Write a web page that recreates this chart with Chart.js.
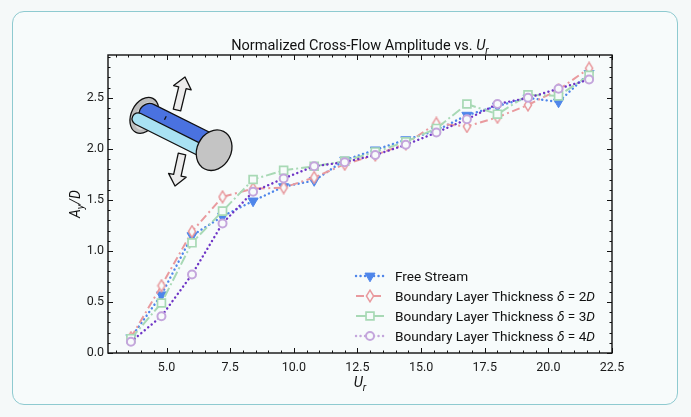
<!DOCTYPE html>
<html><head><meta charset="utf-8">
<script src="https://cdn.jsdelivr.net/npm/chart.js@4.4.0/dist/chart.umd.min.js"></script>
<style>
html,body{margin:0;padding:0;background:#f5f9f9;}
#card{position:absolute;left:12px;top:11px;width:664px;height:392px;border:1.5px solid #8ecad0;border-radius:12px;background:#f7fbfb;}
canvas{position:absolute;left:0;top:0;}
</style></head><body>
<div id="card"></div>
<canvas id="c" width="691" height="417"></canvas>
<script>
// ---- data ----
const ur = [3.6, 4.8, 6.0, 7.2, 8.4, 9.6, 10.8, 12.0, 13.2, 14.4, 15.6, 16.8, 18.0, 19.2, 20.4, 21.6];
const freeStream = [0.15, 0.57, 1.15, 1.34, 1.49, 1.63, 1.69, 1.89, 1.99, 2.09, 2.18, 2.33, 2.42, 2.50, 2.46, 2.74];
const delta2D    = [0.15, 0.66, 1.19, 1.53, 1.61, 1.62, 1.72, 1.85, 1.94, 2.05, 2.25, 2.22, 2.31, 2.43, 2.58, 2.79];
const delta3D    = [0.14, 0.49, 1.08, 1.39, 1.70, 1.79, 1.83, 1.88, 1.97, 2.07, 2.20, 2.44, 2.34, 2.53, 2.52, 2.72];
const delta4D    = [0.11, 0.36, 0.77, 1.27, 1.58, 1.71, 1.83, 1.87, 1.94, 2.04, 2.16, 2.29, 2.44, 2.50, 2.59, 2.68];
const seriesLabels = ['Free Stream', 'Boundary Layer Thickness δ = 2D', 'Boundary Layer Thickness δ = 3D', 'Boundary Layer Thickness δ = 4D'];
const xTicks = [5.0, 7.5, 10.0, 12.5, 15.0, 17.5, 20.0, 22.5];
const yTicks = [0.0, 0.5, 1.0, 1.5, 2.0, 2.5];
const xRange = [2.7, 22.5];
const yRange = [0, 2.92];
const xMinorStep = 0.5;
const yMinorStep = 0.1;

const BG = '#f7fbfb';
const FONT = 'Roboto, "Noto Sans", sans-serif';

function diamondImg(color){
  const c = document.createElement('canvas'); c.width = 10; c.height = 14;
  const g = c.getContext('2d');
  g.beginPath(); g.moveTo(5,1.2); g.lineTo(8.6,7); g.lineTo(5,12.8); g.lineTo(1.4,7); g.closePath();
  g.fillStyle = BG; g.fill(); g.lineWidth = 1.5; g.strokeStyle = color; g.stroke();
  return c;
}

const styles = [
  {line:'#4f86ea', legendLine:'#4f86ea', mark:'#4f86ea', dash:[0.1,4.4], cap:'round', width:2.4, pointStyle:'triangle', rot:180, radius:5.8, fillPt:'#4f86ea', bw:1, order:4},
  {line:'#e99a9e', legendLine:'#e99a9e', mark:'#e99a9e', dash:[8,3.5,2,3.5], cap:'butt', width:2, pointStyle:diamondImg('#e99a9e'), rot:0, radius:5, fillPt:BG, bw:1.5, order:3},
  {line:'#a8d9b5', legendLine:'#a8d9b5', mark:'#a8d9b5', dash:[10,3,2,3], cap:'butt', width:2, pointStyle:'rect', rot:0, radius:5.6, fillPt:BG, bw:1.7, order:2},
  {line:'#6e34c6', legendLine:'#c4a6dc', mark:'#c4a6dc', dash:[0.1,4.4], cap:'round', width:2.4, pointStyle:'circle', rot:0, radius:4, fillPt:BG, bw:2, order:1}
];
const seriesValues = [freeStream, delta2D, delta3D, delta4D];

const datasets = seriesValues.map((vals, i) => {
  const s = styles[i];
  return {
    label: seriesLabels[i],
    data: ur.map((x, k) => ({x, y: vals[k]})),
    borderColor: s.line, borderWidth: s.width, borderDash: s.dash, borderCapStyle: s.cap,
    pointStyle: s.pointStyle, pointRotation: s.rot, pointRadius: s.radius,
    pointBackgroundColor: s.fillPt, pointBorderColor: s.mark, pointBorderWidth: s.bw,
    pointHoverRadius: s.radius, fill: false, tension: 0, order: s.order
  };
});

// ---- rich text helper ----
function segFont(seg, base){
  const size = seg.sub ? base * 0.72 : base;
  return (seg.i ? 'italic ' : '') + size + 'px ' + FONT;
}
function richWidth(ctx, segs, base){
  let w = 0;
  for (const s of segs){ ctx.font = segFont(s, base); w += ctx.measureText(s.t).width; }
  return w;
}
function drawRich(ctx, segs, x, y, base, align){
  const w = richWidth(ctx, segs, base);
  let cx = align === 'center' ? x - w/2 : x;
  ctx.textAlign = 'left'; ctx.textBaseline = 'alphabetic';
  for (const s of segs){
    ctx.font = segFont(s, base);
    ctx.fillText(s.t, cx, y + (s.sub ? base*0.25 : 0));
    cx += ctx.measureText(s.t).width;
  }
}

function drawMarker(ctx, s, x, y){
  ctx.save();
  ctx.setLineDash([]);
  ctx.fillStyle = s.fillPt; ctx.strokeStyle = s.mark; ctx.lineWidth = s.bw;
  ctx.beginPath();
  if (s.pointStyle === 'triangle'){
    for (let k = 0; k < 3; k++){
      const a = Math.PI + k * 2*Math.PI/3;
      const px = x + Math.sin(a)*s.radius, py = y - Math.cos(a)*s.radius;
      k ? ctx.lineTo(px, py) : ctx.moveTo(px, py);
    }
    ctx.closePath(); ctx.fill(); ctx.stroke();
  } else if (s.pointStyle === 'rect'){
    const h = Math.SQRT1_2 * s.radius;
    ctx.rect(x-h, y-h, 2*h, 2*h); ctx.fill(); ctx.stroke();
  } else if (s.pointStyle === 'circle'){
    ctx.arc(x, y, s.radius, 0, Math.PI*2); ctx.fill(); ctx.stroke();
  } else {
    const img = s.pointStyle;
    ctx.drawImage(img, x - img.width/2, y - img.height/2);
  }
  ctx.restore();
}

function blockArrow(ctx, tx, ty, hx, hy){
  const dx = hx - tx, dy = hy - ty, L = Math.hypot(dx, dy);
  const ux = dx/L, uy = dy/L, nx = -uy, ny = ux;
  const sw = 3.8, hw = 9, hl = 11;
  const bx = hx - ux*hl, by = hy - uy*hl;
  const P = [
    [tx + nx*sw, ty + ny*sw], [bx + nx*sw, by + ny*sw], [bx + nx*hw, by + ny*hw], [hx, hy],
    [bx - nx*hw, by - ny*hw], [bx - nx*sw, by - ny*sw], [tx - nx*sw, ty - ny*sw]
  ];
  ctx.beginPath(); P.forEach((p, k) => k ? ctx.lineTo(p[0], p[1]) : ctx.moveTo(p[0], p[1]));
  ctx.closePath(); ctx.fillStyle = '#ececec'; ctx.fill(); ctx.stroke();
}

function drawIcon(ctx, ox, oy){
  ctx.save();
  ctx.strokeStyle = '#111'; ctx.lineWidth = 1.3; ctx.lineJoin = 'round';
  blockArrow(ctx, ox + 34, oy - 8, ox + 42, oy - 41);
  blockArrow(ctx, ox + 39, oy + 36, ox + 32, oy + 68);
  ctx.translate(ox, oy); ctx.rotate(Math.atan2(34, 68));
  // left cap
  ctx.beginPath(); ctx.ellipse(0, -3, 13, 19, 0, 0, Math.PI*2); ctx.fillStyle = '#bdbdbd'; ctx.fill(); ctx.stroke();
  ctx.beginPath(); ctx.ellipse(1, -3, 9, 15, 0, 0, Math.PI*2); ctx.fillStyle = '#d8d8d8'; ctx.fill();
  // blue tube
  ctx.beginPath(); ctx.moveTo(4, -17); ctx.lineTo(76, -17); ctx.lineTo(76, 4); ctx.lineTo(4, 4);
  ctx.arc(4, -6.5, 10.5, Math.PI/2, -Math.PI/2, false); ctx.closePath();
  ctx.fillStyle = '#4a72e0'; ctx.fill(); ctx.stroke();
  ctx.beginPath(); ctx.moveTo(20, -12); ctx.lineTo(20, -8); ctx.stroke();
  // cyan rod
  ctx.beginPath(); ctx.moveTo(-4, -3); ctx.lineTo(76, -3); ctx.lineTo(76, 9); ctx.lineTo(-4, 9);
  ctx.arc(-4, 3, 6, Math.PI/2, -Math.PI/2, false); ctx.closePath();
  ctx.fillStyle = '#a9e2f3'; ctx.fill(); ctx.stroke();
  // right cap
  ctx.beginPath(); ctx.ellipse(78, -3, 17, 21, 0, 0, Math.PI*2); ctx.fillStyle = '#c4c4c4'; ctx.fill(); ctx.stroke();
  ctx.restore();
}

const decor = {
  id: 'decor',
  afterDatasetsDraw(chart){
    const {ctx, chartArea: a, scales: {x, y}} = chart;
    ctx.save();
    // frame ticks (inward, all four sides)
    ctx.strokeStyle = '#111'; ctx.lineWidth = 1; ctx.setLineDash([]);
    const isMajor = (v, arr) => arr.some(t => Math.abs(t - v) < 1e-6);
    ctx.beginPath();
    for (let v = Math.ceil(xRange[0]/xMinorStep)*xMinorStep; v <= xRange[1] + 1e-9; v += xMinorStep){
      const len = isMajor(v, xTicks) ? 5 : 2.5, X = Math.round(x.getPixelForValue(v)) + 0.5;
      ctx.moveTo(X, a.bottom); ctx.lineTo(X, a.bottom - len);
      ctx.moveTo(X, a.top); ctx.lineTo(X, a.top + len);
    }
    for (let v = yRange[0]; v <= yRange[1] + 1e-9; v += yMinorStep){
      const len = isMajor(v, yTicks) ? 5 : 2.5, Y = Math.round(y.getPixelForValue(v)) + 0.5;
      ctx.moveTo(a.left, Y); ctx.lineTo(a.left + len, Y);
      ctx.moveTo(a.right, Y); ctx.lineTo(a.right - len, Y);
    }
    ctx.stroke();
    ctx.lineWidth = 1.4;
    ctx.strokeRect(a.left, a.top, a.right - a.left, a.bottom - a.top);

    // titles
    ctx.fillStyle = '#111';
    drawRich(ctx, [{t:'Normalized Cross-Flow Amplitude vs. '}, {t:'U', i:true}, {t:'r', i:true, sub:true}], (a.left + a.right)/2, 50, 14.5, 'center');
    drawRich(ctx, [{t:'U', i:true}, {t:'r', i:true, sub:true}], (a.left + a.right)/2, 387, 14.5, 'center');
    ctx.save();
    ctx.translate(80, (a.top + a.bottom)/2); ctx.rotate(-Math.PI/2);
    drawRich(ctx, [{t:'A', i:true}, {t:'y', i:true, sub:true}, {t:'/', i:true}, {t:'D', i:true}], 0, 0, 14, 'center');
    ctx.restore();

    // legend
    const lx0 = 356, lx1 = 384, tx = 395, rowY = [276, 296, 316, 336];
    seriesLabels.forEach((lab, i) => {
      const s = styles[i], yy = rowY[i];
      ctx.save();
      ctx.strokeStyle = s.legendLine; ctx.lineWidth = s.width; ctx.setLineDash(s.dash); ctx.lineCap = s.cap;
      ctx.beginPath(); ctx.moveTo(lx0, yy); ctx.lineTo(lx1, yy); ctx.stroke();
      ctx.restore();
      drawMarker(ctx, s, (lx0 + lx1)/2, yy);
      ctx.fillStyle = '#111';
      const m = lab.match(/^(.*)δ = (\d)D$/);
      const segs = m ? [{t:m[1]}, {t:'δ', i:true}, {t:' = ' + m[2]}, {t:'D', i:true}] : [{t:lab}];
      drawRich(ctx, segs, tx, yy + 5, 13.6, 'left');
    });

    drawIcon(ctx, 143, 118);
    ctx.restore();
  }
};

new Chart(document.getElementById('c'), {
  type: 'line',
  data: { datasets },
  options: {
    responsive: false, animation: false,
    layout: { padding: { top: 55, right: 79, left: 0, bottom: 0 } },
    plugins: { legend: { display: false }, tooltip: { enabled: false }, title: { display: false } },
    scales: {
      x: {
        type: 'linear', min: xRange[0], max: xRange[1],
        afterFit(s){ s.height = 64; },
        afterBuildTicks(s){ s.ticks = xTicks.map(v => ({value: v})); },
        grid: { display: false, drawTicks: false }, border: { display: false },
        ticks: { padding: 7, autoSkip: false, maxRotation: 0, color: '#1a1a1a', font: { family: FONT, size: 12.5 }, callback: v => Number(v).toFixed(1) }
      },
      y: {
        type: 'linear', min: yRange[0], max: yRange[1],
        afterFit(s){ s.width = 108; },
        afterBuildTicks(s){ s.ticks = yTicks.map(v => ({value: v})); },
        grid: { display: false, drawTicks: false }, border: { display: false },
        ticks: { padding: 4, autoSkip: false, color: '#1a1a1a', font: { family: FONT, size: 12.5 }, callback: v => Number(v).toFixed(1) }
      }
    }
  },
  plugins: [decor]
});
</script>
</body></html>
